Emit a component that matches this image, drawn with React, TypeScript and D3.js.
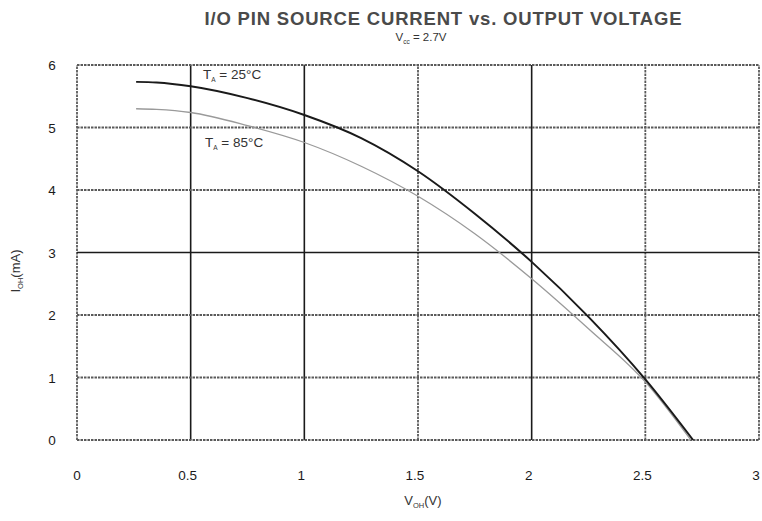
import * as d3 from "d3";

// V_OH (V) / I_OH (mA)
const V25 = [0.26, 0.35, 0.5, 0.75, 1.0, 1.25, 1.5, 1.75, 2.0, 2.25, 2.5, 2.71];
const I25 = [5.73, 5.72, 5.66, 5.47, 5.2, 4.83, 4.3, 3.62, 2.85, 1.97, 0.97, 0];

const V85 = [0.26, 0.35, 0.5, 0.75, 1.0, 1.25, 1.5, 1.75, 2.0, 2.25, 2.5, 2.7];
const I85 = [5.3, 5.29, 5.24, 5.03, 4.76, 4.38, 3.9, 3.3, 2.58, 1.78, 0.93, 0];

const X_TICKS = [0, 0.5, 1, 1.5, 2, 2.5, 3];
const X_LABELS = ["0", "0.5", "1", "1.5", "2", "2.5", "3"];
const Y_TICKS = [0, 1, 2, 3, 4, 5, 6];

// scanned grid: some lines print solid, others grey/dotted
const X_SOLID = [0.5, 1, 2];
const Y_SOLID = [3];

const W = 762;
const H = 521;
const FONT = "'Liberation Sans', Arial, sans-serif";

export default function App() {
  const x = d3.scaleLinear().domain([0, 3]).range([77, 759]);
  const y = d3.scaleLinear().domain([0, 6]).range([440, 65]);

  const curve = d3
    .line<[number, number]>()
    .x((d) => x(d[0]))
    .y((d) => y(d[1]))
    .curve(d3.curveMonotoneX);
  const path25 = curve(V25.map((v, i) => [v, I25[i]]));
  const path85 = curve(V85.map((v, i) => [v, I85[i]]));

  const gridStyle = (solid: boolean) =>
    solid
      ? { stroke: "#1a1a1a", strokeWidth: 1.6 }
      : { stroke: "#5a5a5a", strokeWidth: 1.8, strokeDasharray: "2.5 1" };

  return (
    <svg
      width={W}
      height={H}
      style={{ position: "absolute", left: 0, top: 0, background: "#fff" }}
      fontFamily={FONT}
    >
      <text x={443} y={25} textAnchor="middle" fontSize={18.5} fontWeight="bold" fill="#4a4a4a" textLength={477} lengthAdjust="spacing">
        I/O PIN SOURCE CURRENT vs. OUTPUT VOLTAGE
      </text>
      <text x={421} y={41} textAnchor="middle" fontSize={11.5} fill="#333">
        V<tspan fontSize={6.5} dy={3}>cc</tspan>
        <tspan dy={-3}> = 2.7V</tspan>
      </text>

      {/* grid */}
      {X_TICKS.map((t) => (
        <line key={"vx" + t} x1={x(t)} x2={x(t)} y1={y(0)} y2={y(6)} {...gridStyle(X_SOLID.includes(t))} />
      ))}
      {Y_TICKS.map((t) => (
        <line key={"hy" + t} x1={x(0)} x2={x(3)} y1={y(t)} y2={y(t)} {...gridStyle(Y_SOLID.includes(t))} />
      ))}

      {/* curves */}
      <path d={path85 ?? ""} fill="none" stroke="#9a9a9a" strokeWidth={1.3} />
      <path d={path25 ?? ""} fill="none" stroke="#1a1a1a" strokeWidth={2} />

      <text x={203} y={79} fontSize={13.5} fill="#333">
        T<tspan fontSize={6.5} dy={3}>A</tspan>
        <tspan dy={-3}> = 25°C</tspan>
      </text>
      <text x={205} y={147} fontSize={13.5} fill="#333">
        T<tspan fontSize={6.5} dy={3}>A</tspan>
        <tspan dy={-3}> = 85°C</tspan>
      </text>

      {/* y ticks */}
      {Y_TICKS.map((t) => (
        <text key={"yt" + t} x={52} y={y(t) + 5} textAnchor="middle" fontSize={13.5} fill="#1a1a1a">
          {t}
        </text>
      ))}
      {/* x ticks */}
      {X_TICKS.map((t, i) => (
        <text key={"xt" + t} x={x(t) - (i === 0 ? 0 : 3)} y={480} textAnchor="middle" fontSize={13.5} fill="#1a1a1a">
          {X_LABELS[i]}
        </text>
      ))}

      <text x={423} y={505} textAnchor="middle" fontSize={13} fill="#333">
        V<tspan fontSize={7.5} dy={3}>OH</tspan>
        <tspan dy={-3}>(V)</tspan>
      </text>
      <text transform="translate(20,271) rotate(-90)" textAnchor="middle" fontSize={13} fill="#333">
        I<tspan fontSize={7.5} dy={3}>OH</tspan>
        <tspan dy={-3}>(mA)</tspan>
      </text>
    </svg>
  );
}
